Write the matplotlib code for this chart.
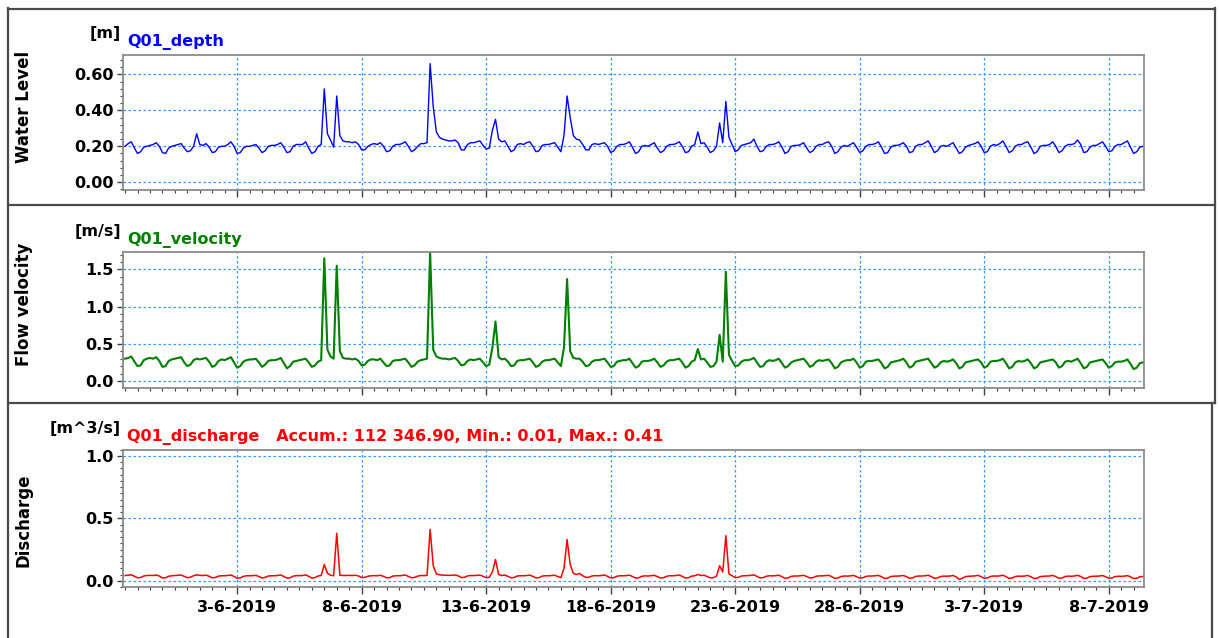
import numpy as np
import pandas as pd
import matplotlib
matplotlib.use("Agg")
import matplotlib.pyplot as plt
import matplotlib.dates as mdates
from matplotlib.lines import Line2D
from matplotlib.ticker import MultipleLocator, FuncFormatter

# 3-hourly samples, one row per day (12h 15h 18h 21h 00h 03h 06h 09h)
start_time = "2019-05-29 12:00"
step = "3h"

depth_rows = [
    [0.200, 0.215, 0.225, 0.190, 0.160, 0.170, 0.195, 0.200],
    [0.205, 0.210, 0.220, 0.200, 0.165, 0.160, 0.190, 0.200],
    [0.205, 0.210, 0.215, 0.190, 0.170, 0.175, 0.200, 0.270],
    [0.210, 0.205, 0.215, 0.195, 0.165, 0.170, 0.195, 0.200],
    [0.200, 0.210, 0.225, 0.200, 0.160, 0.165, 0.190, 0.200],
    [0.200, 0.205, 0.210, 0.190, 0.165, 0.175, 0.200, 0.205],
    [0.205, 0.210, 0.220, 0.195, 0.165, 0.170, 0.200, 0.210],
    [0.210, 0.210, 0.225, 0.190, 0.160, 0.170, 0.200, 0.210],
    [0.520, 0.270, 0.235, 0.195, 0.480, 0.260, 0.230, 0.225],
    [0.225, 0.220, 0.225, 0.210, 0.180, 0.180, 0.200, 0.210],
    [0.215, 0.210, 0.220, 0.200, 0.170, 0.175, 0.200, 0.210],
    [0.210, 0.215, 0.225, 0.200, 0.170, 0.180, 0.200, 0.215],
    [0.215, 0.220, 0.660, 0.420, 0.280, 0.250, 0.240, 0.235],
    [0.230, 0.230, 0.235, 0.220, 0.180, 0.180, 0.210, 0.220],
    [0.220, 0.225, 0.230, 0.205, 0.185, 0.190, 0.290, 0.350],
    [0.240, 0.225, 0.230, 0.200, 0.170, 0.180, 0.210, 0.215],
    [0.210, 0.220, 0.225, 0.200, 0.170, 0.175, 0.205, 0.210],
    [0.210, 0.215, 0.220, 0.195, 0.170, 0.260, 0.480, 0.360],
    [0.260, 0.240, 0.235, 0.210, 0.180, 0.180, 0.210, 0.215],
    [0.210, 0.215, 0.220, 0.200, 0.165, 0.175, 0.200, 0.210],
    [0.210, 0.215, 0.225, 0.195, 0.160, 0.170, 0.200, 0.205],
    [0.200, 0.210, 0.220, 0.190, 0.165, 0.175, 0.200, 0.210],
    [0.210, 0.215, 0.225, 0.200, 0.165, 0.170, 0.200, 0.210],
    [0.280, 0.215, 0.220, 0.195, 0.165, 0.175, 0.200, 0.330],
    [0.220, 0.450, 0.250, 0.210, 0.170, 0.180, 0.205, 0.210],
    [0.215, 0.220, 0.240, 0.200, 0.170, 0.175, 0.200, 0.210],
    [0.210, 0.215, 0.225, 0.195, 0.160, 0.170, 0.200, 0.205],
    [0.205, 0.210, 0.220, 0.190, 0.165, 0.175, 0.200, 0.210],
    [0.210, 0.220, 0.225, 0.200, 0.160, 0.170, 0.195, 0.205],
    [0.200, 0.210, 0.220, 0.195, 0.165, 0.175, 0.200, 0.210],
    [0.210, 0.215, 0.225, 0.195, 0.160, 0.165, 0.195, 0.205],
    [0.205, 0.210, 0.220, 0.200, 0.165, 0.170, 0.200, 0.210],
    [0.210, 0.220, 0.230, 0.200, 0.165, 0.175, 0.200, 0.205],
    [0.200, 0.210, 0.220, 0.190, 0.160, 0.170, 0.195, 0.205],
    [0.210, 0.215, 0.225, 0.200, 0.165, 0.170, 0.200, 0.210],
    [0.205, 0.215, 0.230, 0.200, 0.165, 0.175, 0.200, 0.210],
    [0.210, 0.220, 0.225, 0.195, 0.160, 0.170, 0.200, 0.205],
    [0.205, 0.210, 0.225, 0.200, 0.165, 0.175, 0.200, 0.210],
    [0.210, 0.215, 0.235, 0.210, 0.165, 0.170, 0.195, 0.205],
    [0.205, 0.215, 0.225, 0.200, 0.170, 0.175, 0.200, 0.210],
    [0.210, 0.220, 0.230, 0.195, 0.160, 0.170, 0.195, 0.200],
]

velocity_rows = [
    [0.300, 0.310, 0.330, 0.260, 0.200, 0.210, 0.280, 0.300],
    [0.310, 0.300, 0.320, 0.270, 0.190, 0.200, 0.270, 0.290],
    [0.300, 0.310, 0.320, 0.250, 0.200, 0.220, 0.280, 0.300],
    [0.290, 0.300, 0.310, 0.260, 0.190, 0.210, 0.270, 0.290],
    [0.280, 0.300, 0.320, 0.250, 0.180, 0.200, 0.260, 0.280],
    [0.290, 0.290, 0.300, 0.250, 0.190, 0.220, 0.270, 0.280],
    [0.280, 0.290, 0.310, 0.240, 0.170, 0.200, 0.260, 0.270],
    [0.280, 0.290, 0.300, 0.250, 0.190, 0.210, 0.260, 0.280],
    [1.650, 0.420, 0.330, 0.300, 1.550, 0.400, 0.310, 0.300],
    [0.300, 0.290, 0.300, 0.270, 0.210, 0.220, 0.270, 0.290],
    [0.290, 0.280, 0.300, 0.250, 0.200, 0.210, 0.270, 0.280],
    [0.280, 0.290, 0.300, 0.250, 0.190, 0.210, 0.260, 0.280],
    [0.290, 0.300, 1.720, 0.420, 0.330, 0.310, 0.300, 0.300],
    [0.290, 0.300, 0.310, 0.270, 0.210, 0.220, 0.270, 0.290],
    [0.280, 0.290, 0.300, 0.250, 0.200, 0.220, 0.450, 0.800],
    [0.320, 0.290, 0.300, 0.260, 0.200, 0.210, 0.270, 0.280],
    [0.280, 0.290, 0.300, 0.250, 0.190, 0.210, 0.260, 0.280],
    [0.280, 0.290, 0.300, 0.250, 0.200, 0.450, 1.370, 0.400],
    [0.310, 0.300, 0.300, 0.260, 0.200, 0.210, 0.260, 0.280],
    [0.280, 0.290, 0.300, 0.250, 0.190, 0.200, 0.260, 0.270],
    [0.280, 0.280, 0.300, 0.240, 0.180, 0.200, 0.260, 0.270],
    [0.270, 0.280, 0.300, 0.250, 0.190, 0.210, 0.260, 0.280],
    [0.280, 0.290, 0.300, 0.250, 0.180, 0.200, 0.260, 0.280],
    [0.430, 0.290, 0.300, 0.250, 0.190, 0.200, 0.260, 0.620],
    [0.260, 1.470, 0.350, 0.270, 0.200, 0.210, 0.260, 0.280],
    [0.280, 0.290, 0.310, 0.250, 0.190, 0.200, 0.260, 0.280],
    [0.270, 0.280, 0.300, 0.240, 0.180, 0.200, 0.250, 0.270],
    [0.280, 0.290, 0.300, 0.250, 0.190, 0.210, 0.260, 0.280],
    [0.270, 0.280, 0.290, 0.240, 0.170, 0.190, 0.250, 0.270],
    [0.280, 0.280, 0.300, 0.250, 0.180, 0.200, 0.260, 0.270],
    [0.270, 0.280, 0.290, 0.240, 0.170, 0.190, 0.250, 0.260],
    [0.270, 0.280, 0.300, 0.250, 0.180, 0.200, 0.260, 0.270],
    [0.280, 0.290, 0.300, 0.240, 0.180, 0.200, 0.250, 0.270],
    [0.260, 0.270, 0.290, 0.240, 0.170, 0.190, 0.250, 0.260],
    [0.270, 0.280, 0.290, 0.250, 0.180, 0.200, 0.260, 0.270],
    [0.270, 0.280, 0.300, 0.240, 0.170, 0.190, 0.250, 0.270],
    [0.260, 0.270, 0.290, 0.240, 0.170, 0.190, 0.250, 0.260],
    [0.270, 0.280, 0.290, 0.250, 0.180, 0.200, 0.260, 0.270],
    [0.260, 0.280, 0.300, 0.240, 0.170, 0.190, 0.250, 0.260],
    [0.270, 0.280, 0.290, 0.240, 0.180, 0.200, 0.250, 0.260],
    [0.260, 0.270, 0.290, 0.230, 0.160, 0.180, 0.240, 0.250],
]

discharge_rows = [
    [0.042, 0.044, 0.048, 0.036, 0.024, 0.026, 0.038, 0.042],
    [0.043, 0.042, 0.046, 0.038, 0.022, 0.024, 0.036, 0.040],
    [0.042, 0.044, 0.046, 0.035, 0.025, 0.028, 0.040, 0.048],
    [0.043, 0.042, 0.045, 0.036, 0.023, 0.026, 0.037, 0.040],
    [0.040, 0.042, 0.046, 0.034, 0.020, 0.023, 0.035, 0.040],
    [0.040, 0.041, 0.043, 0.034, 0.022, 0.027, 0.038, 0.040],
    [0.040, 0.042, 0.046, 0.034, 0.021, 0.024, 0.037, 0.041],
    [0.041, 0.042, 0.047, 0.035, 0.022, 0.025, 0.038, 0.042],
    [0.130, 0.060, 0.045, 0.040, 0.380, 0.045, 0.042, 0.042],
    [0.043, 0.042, 0.044, 0.038, 0.026, 0.027, 0.036, 0.040],
    [0.041, 0.040, 0.044, 0.035, 0.024, 0.025, 0.037, 0.040],
    [0.040, 0.042, 0.046, 0.035, 0.024, 0.026, 0.037, 0.042],
    [0.041, 0.043, 0.410, 0.120, 0.055, 0.048, 0.045, 0.044],
    [0.043, 0.044, 0.046, 0.040, 0.026, 0.027, 0.038, 0.042],
    [0.041, 0.043, 0.045, 0.036, 0.025, 0.027, 0.070, 0.170],
    [0.050, 0.042, 0.045, 0.035, 0.024, 0.026, 0.038, 0.040],
    [0.040, 0.042, 0.045, 0.035, 0.023, 0.025, 0.037, 0.040],
    [0.040, 0.042, 0.044, 0.034, 0.025, 0.100, 0.330, 0.130],
    [0.060, 0.050, 0.058, 0.040, 0.027, 0.028, 0.038, 0.041],
    [0.040, 0.042, 0.046, 0.035, 0.023, 0.025, 0.036, 0.040],
    [0.040, 0.041, 0.045, 0.034, 0.021, 0.024, 0.036, 0.039],
    [0.038, 0.040, 0.044, 0.033, 0.022, 0.025, 0.036, 0.040],
    [0.040, 0.042, 0.046, 0.035, 0.022, 0.024, 0.037, 0.040],
    [0.050, 0.042, 0.044, 0.034, 0.023, 0.025, 0.037, 0.120],
    [0.070, 0.360, 0.055, 0.040, 0.025, 0.027, 0.038, 0.040],
    [0.041, 0.043, 0.047, 0.035, 0.023, 0.025, 0.036, 0.040],
    [0.039, 0.041, 0.044, 0.033, 0.020, 0.023, 0.035, 0.038],
    [0.038, 0.040, 0.043, 0.034, 0.022, 0.025, 0.036, 0.039],
    [0.039, 0.041, 0.044, 0.033, 0.019, 0.022, 0.034, 0.038],
    [0.037, 0.039, 0.043, 0.033, 0.021, 0.024, 0.035, 0.038],
    [0.038, 0.040, 0.043, 0.032, 0.019, 0.021, 0.034, 0.037],
    [0.037, 0.039, 0.042, 0.033, 0.020, 0.023, 0.035, 0.038],
    [0.038, 0.040, 0.044, 0.033, 0.020, 0.023, 0.034, 0.037],
    [0.036, 0.038, 0.042, 0.031, 0.010, 0.021, 0.033, 0.036],
    [0.037, 0.039, 0.043, 0.033, 0.020, 0.022, 0.034, 0.038],
    [0.037, 0.039, 0.044, 0.033, 0.019, 0.022, 0.034, 0.037],
    [0.036, 0.038, 0.042, 0.032, 0.018, 0.021, 0.033, 0.036],
    [0.037, 0.038, 0.043, 0.033, 0.020, 0.022, 0.034, 0.037],
    [0.036, 0.038, 0.044, 0.034, 0.019, 0.021, 0.033, 0.036],
    [0.036, 0.038, 0.042, 0.032, 0.020, 0.022, 0.033, 0.036],
    [0.035, 0.037, 0.041, 0.031, 0.018, 0.020, 0.032, 0.034],
]

panel_names = ["Water Level", "Flow velocity", "Discharge"]
units = ["[m]", "[m/s]", "[m^3/s]"]
titles = ["Q01_depth", "Q01_velocity",
          "Q01_discharge   Accum.: 112 346.90, Min.: 0.01, Max.: 0.41"]
colors = ["#0000ff", "#008000", "#ff0000"]
line_widths = [1.0, 1.5, 1.1]
ylims = [(-0.045, 0.71), (-0.09, 1.73), (-0.05, 1.05)]
ymajor = [0.2, 0.5, 0.5]
yminor = [0.04, 0.1, 0.05]
yfmt = ["{:.2f}", "{:.1f}", "{:.1f}"]
label_days = [3, 8, 13, 18, 23, 28]
x_range = ("2019-05-29 10:00", "2019-07-09 10:00")

depth = np.ravel(depth_rows)
velocity = np.ravel(velocity_rows)
discharge = np.ravel(discharge_rows)
times = pd.date_range(start_time, periods=len(depth), freq=step)
series = [depth, velocity, discharge]

W, H = 1219, 638
plt.rcParams["font.family"] = "DejaVu Sans"
plt.rcParams["font.weight"] = "bold"
fig = plt.figure(figsize=(W / 100, H / 100), dpi=100)
fig.patch.set_facecolor("white")

def fx(px):
    return px / W

def fy(py):
    return 1 - py / H

# axes boxes in pixels: (left, top, right, bottom)
boxes = [(123, 54.7, 1144, 190.3), (123, 252.3, 1144, 387.7), (123, 449.5, 1144, 587)]
panel_spans = [(8, 205), (205, 403), (403, 638)]
text_rows = [(38, 46), (236, 244), (433, 441)]

grid_col = "#3399ff"
spine_col = "#8a8a8a"
fs = 11.5

for i, ax_box in enumerate(boxes):
    l, t, r, b = ax_box
    ax = fig.add_axes([fx(l), fy(b), fx(r) - fx(l), fy(t) - fy(b)])
    ax.plot(times, series[i], color=colors[i], lw=line_widths[i])
    ax.set_xlim(pd.Timestamp(x_range[0]), pd.Timestamp(x_range[1]))
    ax.set_ylim(*ylims[i])

    ax.xaxis.set_major_locator(mdates.DayLocator(bymonthday=label_days))
    ax.xaxis.set_minor_locator(mdates.HourLocator(byhour=[0, 12]))
    ax.xaxis.set_major_formatter(FuncFormatter(
        lambda v, p: "{d.day}-{d.month}-{d.year}".format(d=mdates.num2date(v))))
    ax.yaxis.set_major_locator(MultipleLocator(ymajor[i]))
    ax.yaxis.set_minor_locator(MultipleLocator(yminor[i]))
    ax.yaxis.set_major_formatter(FuncFormatter(
        lambda v, p, f=yfmt[i]: f.format(0.0 if abs(v) < 1e-9 else v)))

    ax.grid(True, which="major", color=grid_col, linestyle=(0, (2, 2)), lw=0.9)
    ax.tick_params(axis="both", which="major", direction="out", length=4, width=1,
                   color="#404040", labelsize=fs, pad=3)
    ax.tick_params(axis="both", which="minor", direction="out", length=2.5, width=0.8,
                   color="#404040")
    ax.tick_params(axis="x", which="major", length=5, pad=4)
    if i < 2:
        ax.tick_params(axis="x", labelbottom=False)
    for lab in ax.get_xticklabels() + ax.get_yticklabels():
        lab.set_fontweight("bold")
    for s in ax.spines.values():
        s.set_color(spine_col)
        s.set_linewidth(1.3)

    # panel captions
    y0, y1 = panel_spans[i]
    fig.text(fx(24), fy((y0 + y1) / 2), panel_names[i], rotation=90,
             ha="center", va="center", fontsize=fs + 0.5, fontweight="bold")
    ub, tb = text_rows[i]
    fig.text(fx(121), fy(ub), units[i], ha="right", va="baseline",
             fontsize=fs, fontweight="bold", color="black")
    fig.text(fx(127), fy(tb), titles[i], ha="left", va="baseline",
             fontsize=fs, fontweight="bold", color=colors[i])

# panel frames
frame_col = "#4a4a4a"
for seg in [
    ((8, 8), (8, 638)),
    ((8, 8.5), (1215, 8.5)),
    ((1215, 8), (1215, 403)),
    ((1212, 403), (1212, 638)),
    ((8, 205), (1215, 205)),
    ((8, 403), (1215, 403)),
]:
    (x0, y0), (x1, y1) = seg
    fig.add_artist(Line2D([fx(x0), fx(x1)], [fy(y0), fy(y1)], color=frame_col, lw=1.6))

fig.savefig("out.png", dpi=100, facecolor="white")
